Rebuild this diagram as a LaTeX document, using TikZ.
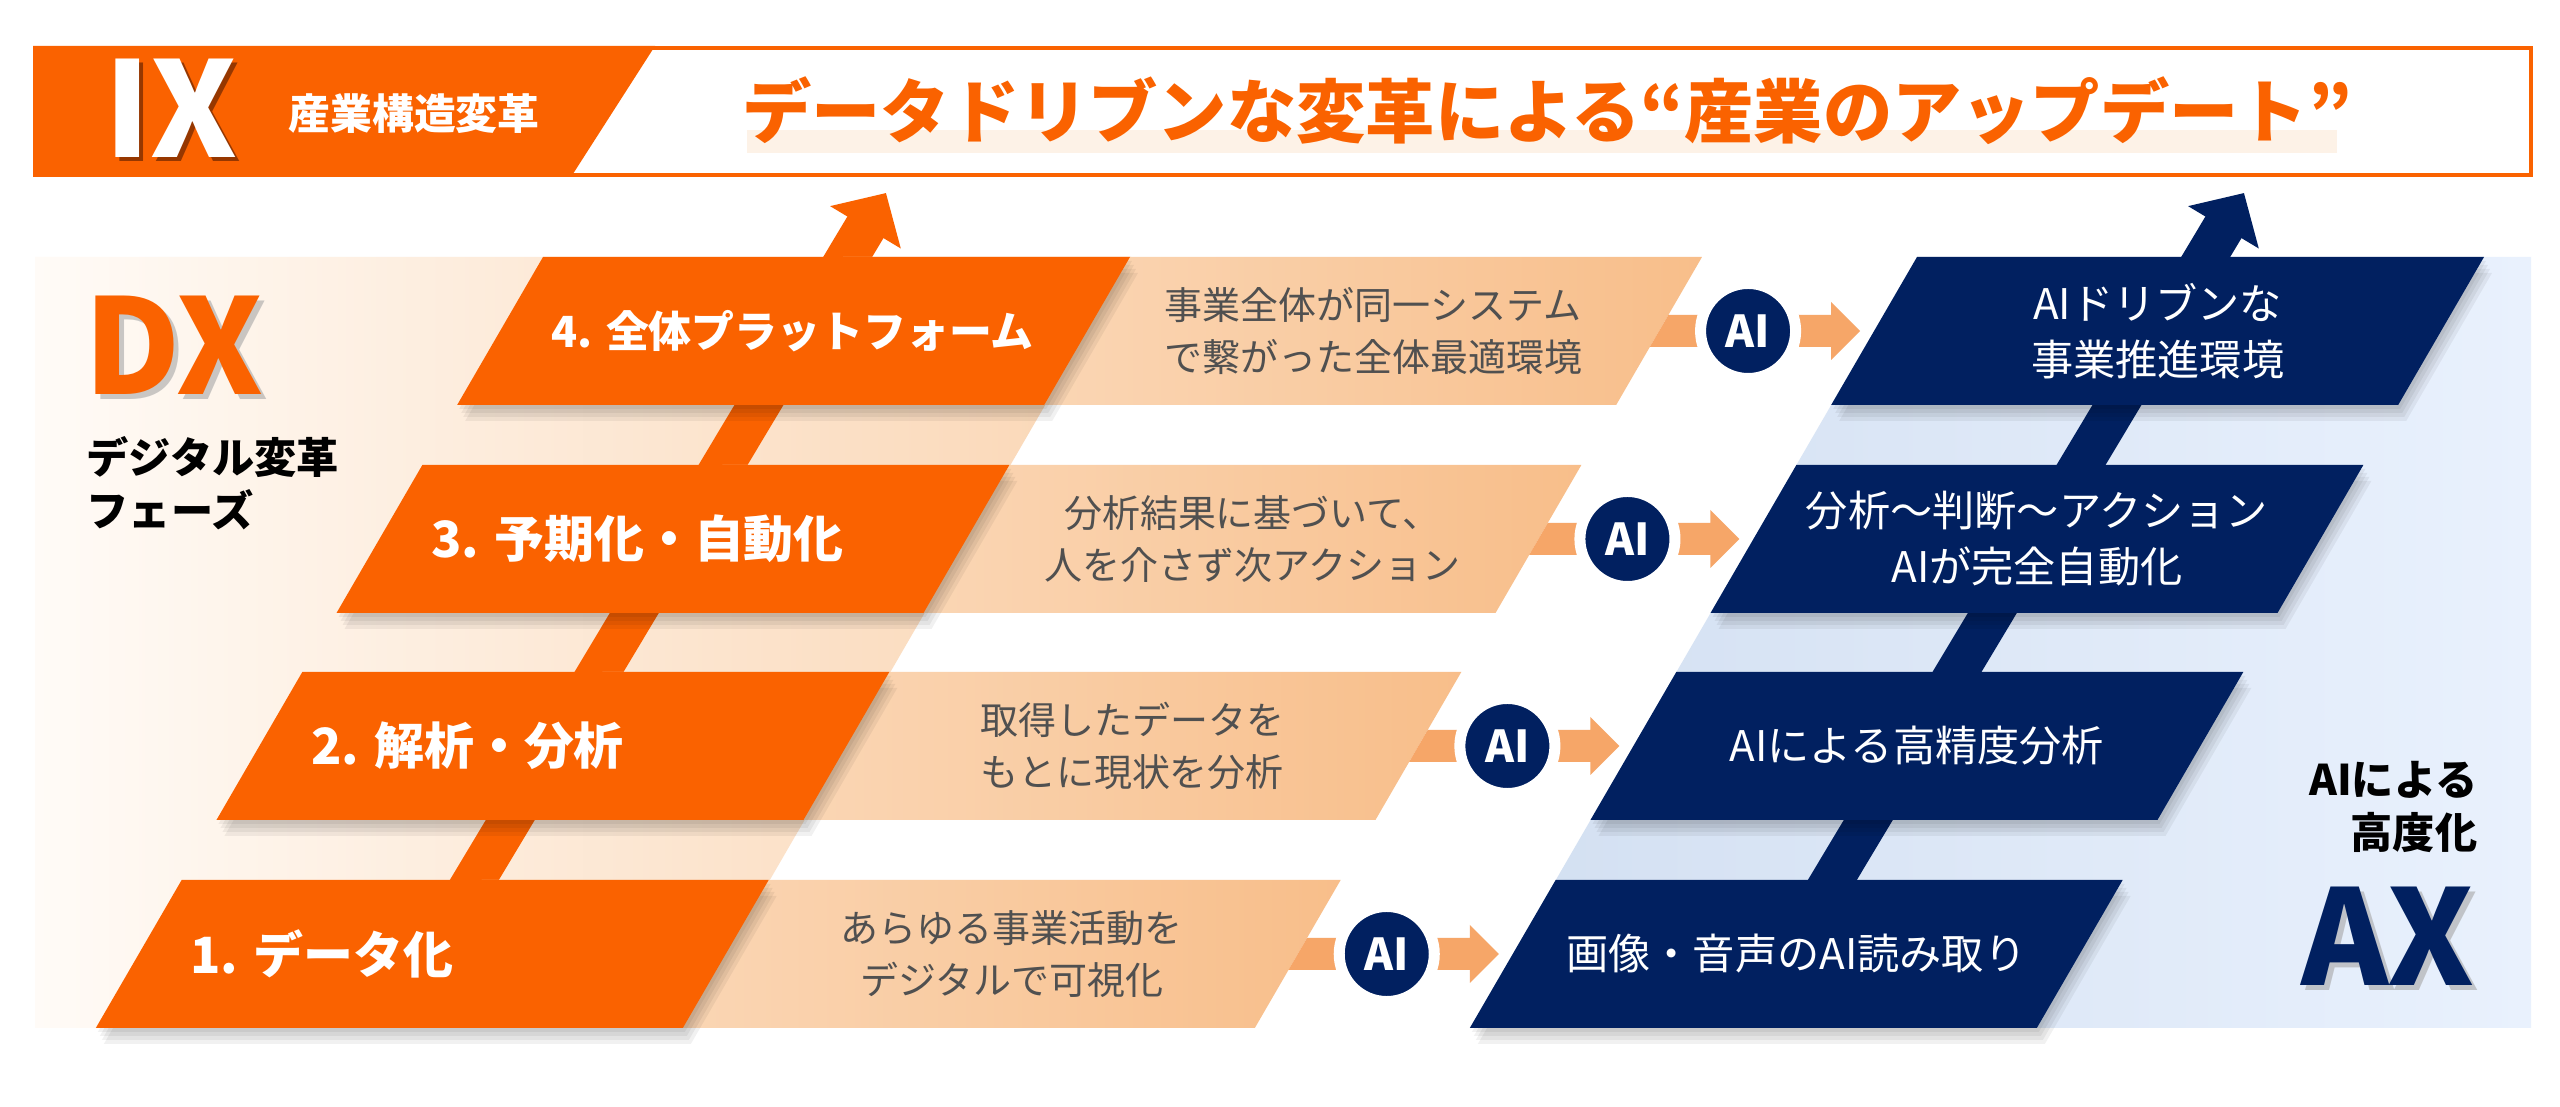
\documentclass[tikz,border=0pt]{standalone}
\usepackage{fontspec}
\setmainfont{Noto Sans CJK JP}
\usetikzlibrary{arrows.meta}
\definecolor{org}{RGB}{250,98,0}
\definecolor{orgdark}{RGB}{150,55,0}
\definecolor{navy}{RGB}{1,32,96}
\definecolor{peachL}{RGB}{251,224,198}
\definecolor{peachR}{RGB}{248,190,138}
\definecolor{arrowpeach}{RGB}{246,166,104}
\definecolor{bandL}{RGB}{255,251,247}
\definecolor{bandR}{RGB}{250,214,180}
\definecolor{blueL}{RGB}{210,223,241}
\definecolor{blueR}{RGB}{233,241,253}
\definecolor{desc}{RGB}{80,80,80}
\definecolor{hilite}{RGB}{253,242,231}
\begin{document}
\begin{tikzpicture}[x=0.01cm,y=-0.01cm,
  dbox/.style={left color=peachL,right color=peachR},
  orgtext/.style={text=white,anchor=west,inner sep=0pt},
  desctext/.style={text=desc,align=center,inner sep=0pt,font=\fontsize{10.8}{14.8}\selectfont},
  navytext/.style={text=white,align=center,inner sep=0pt,font=\fontsize{12}{15.9}\selectfont},
  aicirc/.style={circle,fill=navy,draw=white,line width=0.11cm,minimum size=0.95cm,inner sep=0pt,text=white,font=\bfseries\fontsize{12.5}{14}\selectfont},
  bigtext/.style={inner sep=0pt,font=\bfseries\fontsize{37.6}{40}\selectfont},
  sidelabel/.style={inner sep=0pt,font=\bfseries\fontsize{12}{15.1}\selectfont},
  shadowfill/.style={fill=black,opacity=0.055}
]
\useasboundingbox (0,0) rectangle (2560,1107);
\fill[white] (0,0) rectangle (2560,1107);

% bands
\shade[left color=bandL,right color=bandR] (35,257) -- (1131,257) -- (684,1028) -- (35,1028) -- cycle;
\shade[left color=blueL,right color=blueR] (1917,257) -- (2531,257) -- (2531,1028) -- (1470,1028) -- cycle;

% rising arrows
\coordinate (os) at (430,954);
\coordinate (oe) at (886,193);
\coordinate (ns) at (1788,954);
\coordinate (ne) at (2244,193);
\draw[org,line width=0.42cm,-{Triangle[length=0.4cm,width=0.8cm]}] (os) -- (oe);
\draw[navy,line width=0.42cm,-{Triangle[length=0.4cm,width=0.8cm]}] (ns) -- (ne);

% rows
\foreach \r/\T/\fsz/\ot/\dt/\nt in {
  4/257/12.2/{4. 全体プラットフォーム}/{事業全体が同一システム\\で繋がった全体最適環境}/{AIドリブンな\\事業推進環境},
  3/465/14.2/{3. 予期化・自動化}/{分析結果に基づいて、\\人を介さず次アクション}/{分析〜判断〜アクション\\AIが完全自動化},
  2/672/14.2/{2. 解析・分析}/{取得したデータを\\もとに現状を分析}/{AIによる高精度分析},
  1/880/14.2/{1. データ化}/{あらゆる事業活動を\\デジタルで可視化}/{画像・音声のAI読み取り}}{
  \pgfmathsetmacro\B{\T+148}
  \pgfmathsetmacro\yc{\T+74}
  \pgfmathsetmacro\xt{543-0.58*(\T-257)}
  \pgfmathsetmacro\xb{\xt-85.84}
  \pgfmathsetmacro\xc{\xt-42.92}
  \shade[dbox] ({\xt+300},\T) -- ({\xt+1159},\T) -- ({\xb+1159},\B) -- ({\xb+300},\B) -- cycle;
  \fill[arrowpeach] ({\xc+1168.3},{\yc-16}) -- ({\xc+1331},{\yc-16}) -- ({\xc+1331},{\yc-29}) -- ({\xc+1360},\yc) -- ({\xc+1331},{\yc+29}) -- ({\xc+1331},{\yc+16}) -- ({\xc+1149.7},{\yc+16}) -- cycle;
  \foreach \s in {4,8,12,16}{
    \fill[shadowfill] ({\xt+0.5*\s},{\T+\s}) -- ({\xt+587+0.5*\s},{\T+\s}) -- ({\xb+587+0.5*\s},{\B+\s}) -- ({\xb+0.5*\s},{\B+\s}) -- cycle;
    \fill[shadowfill] ({\xt+1374+0.5*\s},{\T+\s}) -- ({\xt+1941+0.5*\s},{\T+\s}) -- ({\xb+1941+0.5*\s},{\B+\s}) -- ({\xb+1374+0.5*\s},{\B+\s}) -- cycle;
  }
  \fill[org] (\xt,\T) -- ({\xt+587},\T) -- ({\xb+587},\B) -- (\xb,\B) -- cycle;
  \fill[navy] ({\xt+1374},\T) -- ({\xt+1941},\T) -- ({\xb+1941},\B) -- ({\xb+1374},\B) -- cycle;
  \node[orgtext,font=\bfseries\fontsize{\fsz}{\fsz}\selectfont] (o\r) at ({\xc+51},\yc) {\ot};
  \node[desctext] (d\r) at ({\xc+873},\yc) {\dt};
  \node[navytext] (n\r) at ({\xc+1657.5},\yc) {\nt};
  \node[aicirc] (ai\r) at ({\xc+1248},\yc) {AI};
}

% side labels
\node[bigtext,text=black!35,opacity=0.6] (dxs) at (179,350) {DX};
\node[bigtext,text=org] (dx) at (174,345) {DX};
\node[sidelabel,anchor=west,align=left] (dxl) at (86,483) {デジタル変革\\フェーズ};
\node[sidelabel,anchor=east,align=right] (axl) at (2478,807) {AIによる\\高度化};
\node[bigtext,text=black!35,opacity=0.6] (axs) at (2393,941) {AX};
\node[bigtext,text=navy] (ax) at (2388,936) {AX};

% top banner
\draw[org,line width=0.045cm] (35,48) rectangle (2531,175);
\fill[org] (33,46) -- (655,46) -- (571,177) -- (33,177) -- cycle;
\node[bigtext,text=orgdark] (ixs) at (175,112) {IX};
\node[bigtext,text=white] (ix) at (171,108) {IX};
\node[inner sep=0pt,text=white,font=\bfseries\fontsize{11.9}{12}\selectfont] (ind) at (414,114) {産業構造変革};
\fill[hilite] (747,130) rectangle (2337,153);
\node[inner sep=0pt,text=org,font=\bfseries\fontsize{19.7}{22}\selectfont] (title) at (1547,111) {データドリブンな変革による“産業のアップデート”};
\end{tikzpicture}
\end{document}
